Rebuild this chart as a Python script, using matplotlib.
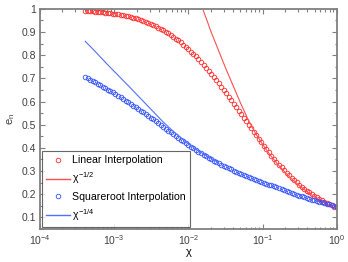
import matplotlib
matplotlib.use("Agg")
import matplotlib.pyplot as plt
import numpy as np

plt.rcParams['font.family'] = ['Liberation Sans', 'DejaVu Sans']
plt.rcParams['mathtext.fontset'] = 'custom'
plt.rcParams['mathtext.rm'] = 'Liberation Sans'
plt.rcParams['mathtext.it'] = 'Liberation Sans'

# log10(chi) at which the simulated points sit
log_chi = [-3.390, -3.356, -3.322, -3.288, -3.254, -3.221, -3.187, -3.153, -3.119, -3.085,
           -3.051, -3.017, -2.983, -2.949, -2.915, -2.882, -2.848, -2.814, -2.780, -2.746,
           -2.712, -2.678, -2.644, -2.610, -2.576, -2.543, -2.509, -2.475, -2.441, -2.407,
           -2.373, -2.339, -2.305, -2.271, -2.237, -2.204, -2.170, -2.136, -2.102, -2.068,
           -2.034, -2.000, -1.966, -1.932, -1.898, -1.865, -1.831, -1.797, -1.763, -1.729,
           -1.695, -1.661, -1.627, -1.593, -1.559, -1.526, -1.492, -1.458, -1.424, -1.390,
           -1.356, -1.322, -1.288, -1.254, -1.220, -1.187, -1.153, -1.119, -1.085, -1.051,
           -1.017, -0.983, -0.949, -0.915, -0.881, -0.848, -0.814, -0.780, -0.746, -0.712,
           -0.678, -0.644, -0.610, -0.576, -0.542, -0.509, -0.475, -0.441, -0.407, -0.373,
           -0.339, -0.305, -0.271, -0.237, -0.203, -0.170, -0.136, -0.102, -0.068, -0.034,
           0.000]

e_linear = [0.991, 0.990, 0.990, 0.989, 0.988, 0.987, 0.986, 0.985, 0.983, 0.982,
            0.981, 0.979, 0.977, 0.976, 0.974, 0.972, 0.970, 0.968, 0.965, 0.962,
            0.959, 0.956, 0.952, 0.949, 0.945, 0.941, 0.937, 0.931, 0.925, 0.919,
            0.913, 0.907, 0.900, 0.894, 0.887, 0.880, 0.872, 0.864, 0.855, 0.846,
            0.836, 0.826, 0.816, 0.806, 0.795, 0.784, 0.772, 0.760, 0.747, 0.734,
            0.721, 0.707, 0.693, 0.679, 0.665, 0.651, 0.636, 0.621, 0.606, 0.591,
            0.576, 0.561, 0.546, 0.531, 0.516, 0.500, 0.485, 0.469, 0.454, 0.439,
            0.424, 0.409, 0.395, 0.381, 0.367, 0.354, 0.341, 0.328, 0.316, 0.304,
            0.293, 0.282, 0.272, 0.262, 0.252, 0.242, 0.233, 0.224, 0.216, 0.208,
            0.200, 0.193, 0.186, 0.179, 0.173, 0.167, 0.162, 0.157, 0.152, 0.147,
            0.143]

e_sqrt = [0.707, 0.701, 0.695, 0.689, 0.683, 0.677, 0.670, 0.664, 0.658, 0.652,
          0.646, 0.640, 0.633, 0.626, 0.619, 0.612, 0.604, 0.597, 0.590, 0.583,
          0.575, 0.568, 0.560, 0.553, 0.545, 0.538, 0.530, 0.523, 0.515, 0.507,
          0.499, 0.491, 0.483, 0.475, 0.467, 0.459, 0.451, 0.443, 0.435, 0.428,
          0.420, 0.413, 0.405, 0.398, 0.391, 0.384, 0.377, 0.370, 0.364, 0.357,
          0.351, 0.345, 0.339, 0.333, 0.328, 0.322, 0.317, 0.312, 0.307, 0.302,
          0.297, 0.292, 0.288, 0.283, 0.279, 0.274, 0.270, 0.266, 0.262, 0.258,
          0.254, 0.250, 0.246, 0.242, 0.238, 0.234, 0.230, 0.226, 0.222, 0.218,
          0.214, 0.210, 0.206, 0.202, 0.198, 0.194, 0.191, 0.187, 0.184, 0.180,
          0.177, 0.173, 0.170, 0.167, 0.165, 0.162, 0.159, 0.156, 0.153, 0.150,
          0.147]

# guide lines
log_chi_half = [-1.80, -1.75, -1.70, -1.60, -1.50, -1.40, -1.30, -1.20, -1.10, -1.00,
                -0.90, -0.80, -0.70, -0.60, -0.50, -0.40, -0.30, -0.20, -0.10, 0.00]
e_half = [0.993, 0.950, 0.905, 0.825, 0.745, 0.670, 0.595, 0.525, 0.465, 0.415,
          0.370, 0.330, 0.295, 0.263, 0.235, 0.210, 0.188, 0.169, 0.152, 0.138]

log_chi_quarter = [-3.39, -3.25, -3.10, -2.95, -2.80, -2.65, -2.50, -2.35, -2.20, -2.05,
                   -1.90, -1.75, -1.60]
e_quarter = [0.860, 0.814, 0.763, 0.714, 0.665, 0.615, 0.565, 0.515, 0.470, 0.430,
             0.395, 0.365, 0.338]

yticks = [0.1, 0.2, 0.3, 0.4, 0.5, 0.6, 0.7, 0.8, 0.9, 1.0]
yticklabels = ['0.1', '0.2', '0.3', '0.4', '0.5', '0.6', '0.7', '0.8', '0.9', '1']
xticks = [1e-4, 1e-3, 1e-2, 1e-1, 1e0]
xticklabels = ['$10^{-4}$', '$10^{-3}$', '$10^{-2}$', '$10^{-1}$', '$10^{0}$']

chi = 10 ** np.array(log_chi)
chi_half = 10 ** np.array(log_chi_half)
chi_quarter = 10 ** np.array(log_chi_quarter)

red = '#ff2a2a'
blue = '#3050ff'
grey = '#808080'

fig = plt.figure(figsize=(3.48, 2.62), dpi=100)
ax = fig.add_axes([0.115, 0.126, 0.853, 0.840])

ax.plot(chi, e_linear, 'o', ms=3.3, mfc='none', mec=red, mew=0.6,
        label='Linear Interpolation')
ax.plot(chi_half, e_half, '-', color='#ff5050', lw=0.8, label='$\\chi^{-1/2}$')
ax.plot(chi, e_sqrt, 'o', ms=3.3, mfc='none', mec=blue, mew=0.6,
        label='Squareroot Interpolation')
ax.plot(chi_quarter, e_quarter, '-', color='#5070ff', lw=0.8, label='$\\chi^{-1/4}$')

ax.set_xscale('log')
ax.set_xlim(1e-4, 1)
ax.set_ylim(0.055, 1)
ax.set_xticks(xticks)
ax.set_xticklabels(xticklabels)
ax.set_yticks(yticks)
ax.set_yticklabels(yticklabels)
ax.set_yticks(np.array(yticks) - 0.05, minor=True)

ax.tick_params(which='both', direction='in', top=True, right=True,
               colors=grey, labelcolor='#404040', labelsize=7.5, width=0.8)
ax.tick_params(which='major', length=3.5, pad=3)
ax.tick_params(which='minor', length=1.8)
for s in ax.spines.values():
    s.set_color(grey)
    s.set_linewidth(1.3)

ax.set_xlabel('χ', fontsize=8, labelpad=0)
ax.set_ylabel('$\\mathregular{e_n}$', fontsize=8, color='#404040', labelpad=3)

leg = ax.legend(loc='lower left', fontsize=7.6, frameon=True, fancybox=False,
                edgecolor='#404040', borderaxespad=0.2, handlelength=2.2,
                labelspacing=0.5, handletextpad=0.25, borderpad=0.4,
                markerscale=1.0)
leg.get_frame().set_linewidth(0.8)
for h in leg.get_lines():
    h.set_linewidth(1.0)

fig.savefig('out.png', dpi=100)
